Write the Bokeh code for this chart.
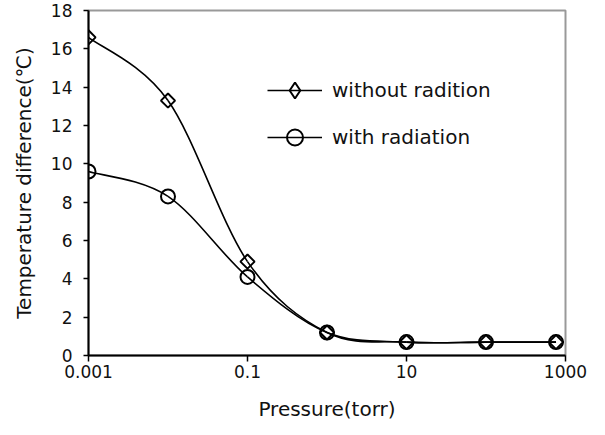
import numpy as np
from bokeh.plotting import figure
from bokeh.models import (FixedTicker, CustomJSTickFormatter, Legend, LegendItem,
                          ColumnDataSource, Range1d)
from bokeh.embed import file_html
from bokeh.resources import INLINE

# ---- data ----
pressure = [0.001, 0.01, 0.1, 1, 10, 100, 760]
without_radiation = [16.6, 13.3, 4.9, 1.2, 0.7, 0.7, 0.7]
with_radiation = [9.6, 8.3, 4.1, 1.2, 0.7, 0.7, 0.7]
series_names = ["without radition", "with radiation"]
x_ticks = [0.001, 0.1, 10, 1000]
y_ticks = [0, 2, 4, 6, 8, 10, 12, 14, 16, 18]

FONT = "DejaVu Sans"


def smooth_segments(xs, ys):
    """Excel-like smoothed line: cubic Bezier segments (Catmull-Rom control
    points) computed in log10(x) / y space."""
    u = np.log10(np.asarray(xs, dtype=float))
    v = np.asarray(ys, dtype=float)
    n = len(u)
    seg = dict(x0=[], y0=[], x1=[], y1=[], cx0=[], cy0=[], cx1=[], cy1=[])
    for i in range(n - 1):
        i0 = max(i - 1, 0)
        i3 = min(i + 2, n - 1)
        c0u = u[i] + (u[i + 1] - u[i0]) / 6.0
        c0v = v[i] + (v[i + 1] - v[i0]) / 6.0
        c1u = u[i + 1] - (u[i3] - u[i]) / 6.0
        c1v = v[i + 1] - (v[i3] - v[i]) / 6.0
        seg["x0"].append(10 ** u[i]); seg["y0"].append(v[i])
        seg["x1"].append(10 ** u[i + 1]); seg["y1"].append(v[i + 1])
        seg["cx0"].append(10 ** c0u); seg["cy0"].append(c0v)
        seg["cx1"].append(10 ** c1u); seg["cy1"].append(c1v)
    return ColumnDataSource(seg)


p = figure(width=605, height=435, x_axis_type="log",
           x_range=(0.001, 1000), y_range=(0, 18),
           output_backend="svg", toolbar_location=None,
           min_border_left=88, min_border_right=40,
           min_border_top=10, min_border_bottom=80)
# a range used only so that the legend-swatch renderers fall outside the frame
p.extra_y_ranges = {"legend_only": Range1d(start=1000, end=2000)}

p.xgrid.visible = False
p.ygrid.visible = False
p.outline_line_color = "#999999"
p.outline_line_width = 2
p.background_fill_color = "white"
p.border_fill_color = "white"

TXT = "#111111"

# x axis
xa = p.xaxis[0]
xa.ticker = FixedTicker(ticks=x_ticks, minor_ticks=[])
xa.formatter = CustomJSTickFormatter(code="return String(tick)")
xa.axis_label = "Pressure(torr)"
xa.axis_line_color = "black"
xa.axis_line_width = 2
xa.major_tick_in = 0
xa.major_tick_out = 6
xa.major_tick_line_width = 1.5
xa.minor_tick_line_color = None
xa.major_label_standoff = 3
xa.major_label_text_font = FONT
xa.major_label_text_font_size = "17px"
xa.major_label_text_color = TXT
xa.axis_label_standoff = 16
xa.axis_label_text_font = FONT
xa.axis_label_text_font_size = "20px"
xa.axis_label_text_font_style = "normal"
xa.axis_label_text_color = TXT

# y axis
ya = p.yaxis[0]
ya.ticker = FixedTicker(ticks=y_ticks, minor_ticks=[])
ya.axis_label = "Temperature difference(℃)"
ya.axis_line_color = "black"
ya.axis_line_width = 2
ya.major_tick_in = 0
ya.major_tick_out = 5
ya.major_tick_line_width = 1.5
ya.minor_tick_line_color = None
ya.major_label_standoff = 11
ya.major_label_text_font = FONT
ya.major_label_text_font_size = "17px"
ya.major_label_text_color = TXT
ya.axis_label_standoff = 12
ya.axis_label_text_font = FONT
ya.axis_label_text_font_size = "20px"
ya.axis_label_text_font_style = "normal"
ya.axis_label_text_color = TXT

# curves
items = []
specs = [(without_radiation, "square", np.pi / 4, 10, "diamond", series_names[0]),
         (with_radiation, "circle", 0.0, 14, "circle", series_names[1])]
for ys, marker, ang, sz, leg_marker, name in specs:
    src = smooth_segments(pressure, ys)
    cr = p.bezier(x0="x0", y0="y0", x1="x1", y1="y1", cx0="cx0", cy0="cy0",
                  cx1="cx1", cy1="cy1", source=src,
                  line_color="black", line_width=1.6)
    p.scatter(pressure, ys, marker=marker, angle=ang, size=sz,
              line_color="black", line_width=2, fill_alpha=0)
    # legend swatch marker: same data on an off-frame range (not visible in plot)
    lr = p.scatter(pressure, ys, y_range_name="legend_only",
                   marker=leg_marker, size=sz,
                   line_color="black", line_width=2, fill_alpha=0)
    items.append(LegendItem(label=name, renderers=[cr, lr]))

legend = Legend(items=items, location=(179, 198),
                glyph_width=55, glyph_height=40, label_standoff=10,
                spacing=7, padding=0, margin=0,
                border_line_color=None, background_fill_alpha=0,
                label_text_font=FONT, label_text_font_size="20px",
                label_text_color=TXT)
p.add_layout(legend)

open("out.html", "w").write(file_html(p, INLINE))
